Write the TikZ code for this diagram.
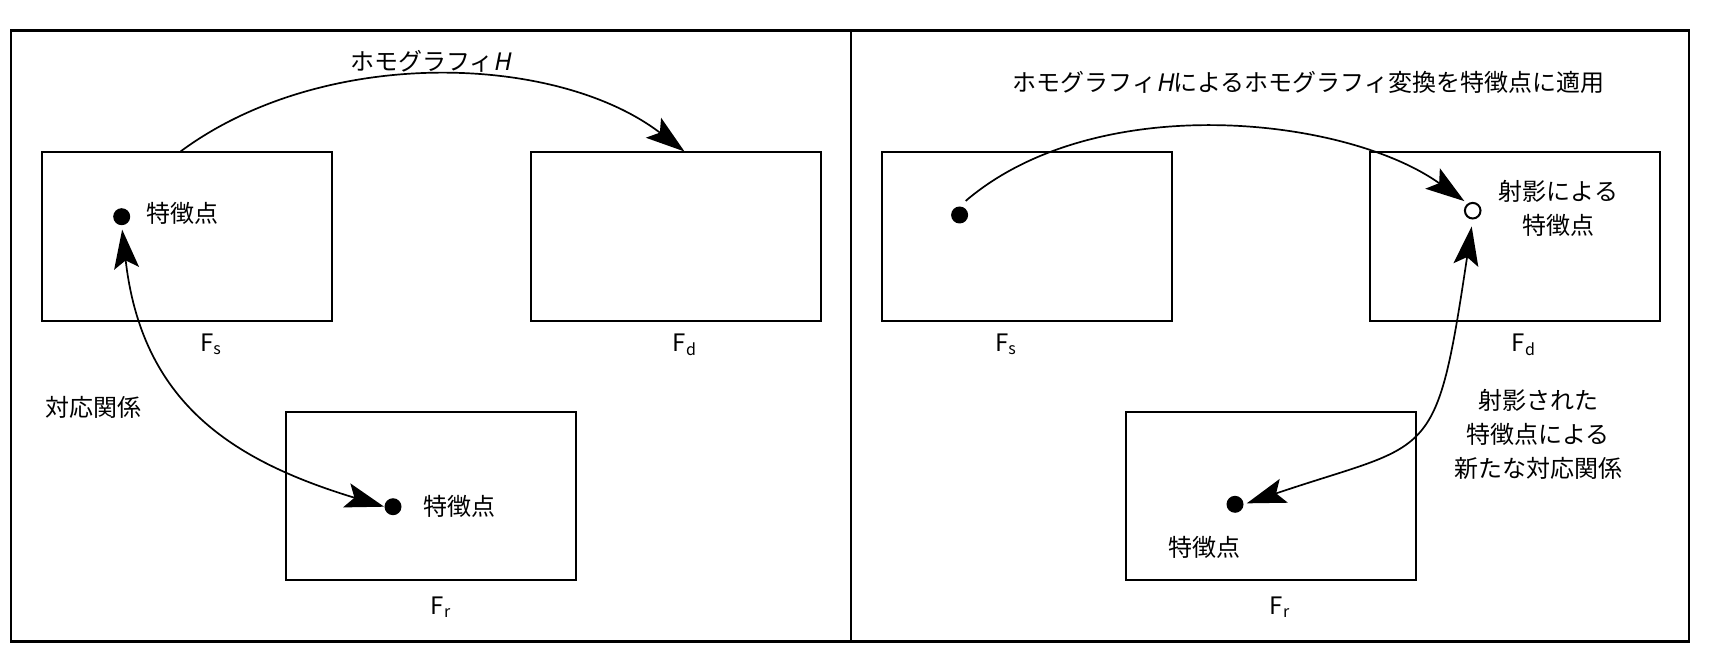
\documentclass[tikz,border=0pt]{standalone}
\usepackage{fontspec}
\setmainfont{Noto Sans CJK JP}[AutoFakeSlant=0.2]
\usetikzlibrary{calc}
\usetikzlibrary{positioning}
\usetikzlibrary{arrows.meta}

\begin{document}
\begin{tikzpicture}[x=0.5pt, y=-0.5pt,
    every node/.style={font=\fontsize{12pt}{17pt}\selectfont},
    frame/.style={draw, line width=1pt, minimum width=145pt, minimum height=84pt, inner sep=0pt},
    dot/.style={circle, fill, minimum size=8.5pt, inner sep=0pt},
    hollow/.style={circle, draw, line width=1pt, minimum size=7.8pt, inner sep=0pt},
    >={Stealth[length=19.5pt, width=12.5pt, inset=4pt]}]
\useasboundingbox (0,0) rectangle (1712,668);
\draw[line width=1.2pt] (11,30.5) rectangle (1689,641.5);
\draw[line width=1.2pt] (851,30.5) -- (851,641.5);

\begin{scope}
    \node[frame] (fsL) at (186.5,236.5) {};
    \node[frame] (fdL) at (675.5,236.5) {};
    \node[frame] (frL) at (431.4,496) {};
    \node[below=2.5pt of fsL, xshift=12.2pt] (fsLlab) {F\textsubscript{s}};
    \node[below=2.5pt of fdL, xshift=4.7pt] (fdLlab) {F\textsubscript{d}};
    \node[below=4.3pt of frL, xshift=4.8pt] (frLlab) {F\textsubscript{r}};

    \node[dot] (ptsL) at (121.7,216.7) {};
    \node (ptsLlab) at (182,213) {特徴点};
    \node[dot] (ptrL) at (393,506.7) {};
    \node (ptrLlab) at (459,506) {特徴点};

    \node (homL) at (430.5,61.5) {ホモグラフィ\textit{H}};
    \node (corL) at (93,407) {対応関係};

    \draw[line width=0.85pt, ->] ($(fsL.north)+(-6,0)$) .. controls +(143,-106) and +(-128,-98) .. ($(fdL.north)+(9,0)$);
    \draw[line width=0.85pt, <->, shorten <=2pt] (ptsL.south) .. controls +(20,175) and +(-155,-47) .. (ptrL.west);
\end{scope}

\begin{scope}
    \node[frame] (fsR) at (1026.8,236.5) {};
    \node[frame] (fdR) at (1514.8,236.5) {};
    \node[frame] (frR) at (1270.5,496) {};
    \node[below=2.5pt of fsR, xshift=-10.4pt] (fsRlab) {F\textsubscript{s}};
    \node[below=2.5pt of fdR, xshift=4.6pt] (fdRlab) {F\textsubscript{d}};
    \node[below=4.3pt of frR, xshift=4.8pt] (frRlab) {F\textsubscript{r}};

    \node[dot] (ptsR) at (959.6,215) {};
    \node[hollow] (prjR) at (1472.7,210.7) {};
    \node[dot] (ptrR) at (1235,504.3) {};
    \node (ptrRlab) at (1204.6,547) {特徴点};

    \node (homR) at (1308.6,82.5) {ホモグラフィ\textit{H}によるホモグラフィ変換を特徴点に適用};
    \node[align=center] (prjRlab) at (1558.6,208) {射影による\\特徴点};
    \node[align=center] (newR) at (1538,434) {射影された\\特徴点による\\新たな対応関係};

    \draw[line width=0.85pt, ->, shorten <=4pt, shorten >=2pt] (ptsR.north) .. controls +(137,-117) and +(-122,-87) .. (prjR.125);
    \draw[line width=0.85pt, <->, shorten <=1.5pt, shorten >=3.5pt] (ptrR.east) .. controls +(189,-64) and +(-37,247) .. (prjR.south);
\end{scope}
\end{tikzpicture}
\end{document}
